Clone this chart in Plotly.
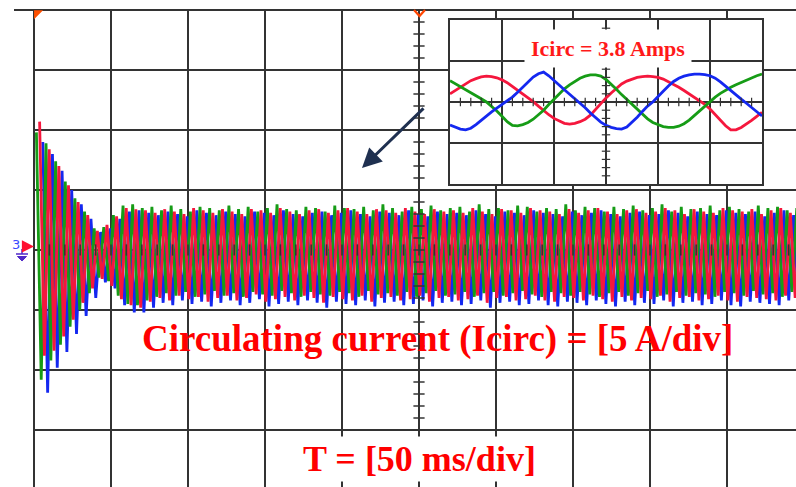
import plotly.graph_objects as go

# ---------------- main scope data (5 A/div, 50 ms/div) ----------------
PERIOD_MS = 6.25          # one cycle of the circulating current on screen
OFFSET_G, OFFSET_R, OFFSET_B = 0.0, 2.083, 4.167

green_peaks = [9.8, 8.9, 7.4, 5.7, 4.3, 3.2, 1.8, 1.9, 2.9, 3.7,
               3.8, 3.5, 3.6, 3.3, 3.7, 3.4, 3.2, 3.6, 3.5, 3.3,
               3.7, 3.4, 3.6, 3.2, 3.5, 3.8, 3.4, 3.3, 3.6, 3.5,
               3.2, 3.7, 3.5, 3.4, 3.6, 3.3, 3.8, 3.5, 3.2, 3.6,
               3.4, 3.7, 3.3, 3.5, 3.6, 3.2, 3.8, 3.4, 3.5, 3.3,
               3.7, 3.6, 3.2, 3.5, 3.4, 3.8, 3.3, 3.6, 3.5, 3.2,
               3.6, 3.4, 3.7, 3.3, 3.5, 3.8, 3.2, 3.6, 3.4, 3.5,
               3.7, 3.3, 3.6, 3.4, 3.2, 3.7, 3.5, 3.6, 3.3, 3.5]
green_troughs = [-10.8, -9.2, -7.9, -6.4, -5.0, -3.6, -2.3, -2.6, -3.8, -4.5,
                 -4.6, -4.2, -3.9, -3.6, -3.8, -3.5, -3.9, -3.7, -3.4, -3.8,
                 -3.6, -3.9, -3.5, -3.7, -3.8, -3.4, -3.6, -3.9, -3.5, -3.7,
                 -3.8, -3.5, -3.6, -3.9, -3.4, -3.7, -3.6, -3.8, -3.5, -3.9,
                 -3.6, -3.4, -3.8, -3.7, -3.5, -3.9, -3.6, -3.5, -3.8, -3.6,
                 -3.4, -3.7, -3.9, -3.5, -3.6, -3.8, -3.5, -3.7, -3.9, -3.6,
                 -3.5, -3.8, -3.6, -3.4, -3.9, -3.7, -3.5, -3.8, -3.6, -3.7,
                 -3.9, -3.5, -3.6, -3.8, -3.4, -3.7, -3.6, -3.9, -3.5, -3.7]
red_peaks = [10.7, 8.4, 7.0, 5.4, 4.0, 2.9, 1.6, 2.1, 2.8, 3.5,
             3.4, 3.3, 3.1, 3.4, 3.2, 3.0, 3.5, 3.3, 3.1, 3.4,
             3.2, 3.0, 3.4, 3.3, 3.1, 3.5, 3.2, 3.0, 3.3, 3.4,
             3.1, 3.3, 3.5, 3.2, 3.0, 3.4, 3.3, 3.1, 3.5, 3.2,
             3.0, 3.4, 3.2, 3.3, 3.1, 3.5, 3.2, 3.0, 3.4, 3.3,
             3.1, 3.5, 3.3, 3.2, 3.0, 3.4, 3.1, 3.3, 3.5, 3.2,
             3.0, 3.3, 3.4, 3.1, 3.2, 3.5, 3.3, 3.0, 3.4, 3.2,
             3.1, 3.5, 3.3, 3.2, 3.4, 3.0, 3.3, 3.5, 3.1, 3.2]
red_troughs = [-8.8, -8.4, -7.2, -5.8, -4.4, -3.2, -2.4, -3.0, -4.1, -4.6,
               -4.8, -4.3, -4.0, -4.2, -3.8, -4.1, -3.9, -4.3, -4.0, -3.8,
               -4.2, -4.0, -3.7, -4.3, -4.1, -3.9, -4.2, -3.8, -4.0, -4.4,
               -3.9, -4.1, -4.2, -3.8, -4.3, -4.0, -3.9, -4.2, -4.1, -3.8,
               -4.3, -4.0, -3.9, -4.2, -4.1, -3.8, -4.4, -4.0, -3.9, -4.2,
               -4.1, -3.8, -4.2, -4.3, -3.9, -4.0, -4.2, -3.8, -4.1, -4.3,
               -3.9, -4.2, -4.0, -4.1, -3.8, -4.3, -4.0, -3.9, -4.2, -4.1,
               -3.8, -4.2, -4.3, -3.9, -4.0, -4.1, -4.2, -3.8, -4.0, -4.3]
blue_peaks = [9.0, 8.0, 6.6, 5.0, 3.8, 2.6, 1.5, 1.8, 2.6, 3.2,
              3.3, 3.1, 2.9, 3.2, 3.0, 2.8, 3.3, 3.1, 2.9, 3.2,
              3.0, 2.8, 3.2, 3.1, 2.9, 3.3, 3.0, 2.8, 3.1, 3.2,
              2.9, 3.1, 3.3, 3.0, 2.8, 3.2, 3.1, 2.9, 3.3, 3.0,
              2.8, 3.2, 3.0, 3.1, 2.9, 3.3, 3.0, 2.8, 3.2, 3.1,
              2.9, 3.3, 3.1, 3.0, 2.8, 3.2, 2.9, 3.1, 3.3, 3.0,
              2.8, 3.1, 3.2, 2.9, 3.0, 3.3, 3.1, 2.8, 3.2, 3.0,
              2.9, 3.3, 3.1, 3.0, 3.2, 2.8, 3.1, 3.3, 2.9, 3.0]
blue_troughs = [-11.9, -9.8, -8.5, -7.0, -5.5, -4.0, -2.7, -3.2, -4.6, -5.2,
                -5.2, -4.8, -4.4, -4.6, -4.2, -4.5, -4.3, -4.7, -4.4, -4.2,
                -4.6, -4.4, -4.1, -4.7, -4.5, -4.3, -4.6, -4.2, -4.4, -4.8,
                -4.3, -4.5, -4.6, -4.2, -4.7, -4.4, -4.3, -4.6, -4.5, -4.2,
                -4.7, -4.4, -4.3, -4.6, -4.5, -4.2, -4.8, -4.4, -4.3, -4.6,
                -4.5, -4.2, -4.6, -4.7, -4.3, -4.4, -4.6, -4.2, -4.5, -4.7,
                -4.3, -4.6, -4.4, -4.5, -4.2, -4.7, -4.4, -4.3, -4.6, -4.5,
                -4.2, -4.6, -4.7, -4.3, -4.4, -4.5, -4.6, -4.2, -4.4, -4.7]

# ---------------- inset data (zoomed view, in divisions) ----------------
inset_x = [round(0.1 * i, 1) for i in range(61)]
inset_red = [0.20, 0.28, 0.37, 0.45, 0.52, 0.57, 0.61, 0.63, 0.62, 0.59,
             0.54, 0.47, 0.38, 0.28, 0.18, 0.09, 0.01, -0.10, -0.21, -0.31,
             -0.40, -0.47, -0.52, -0.54, -0.52, -0.48, -0.42, -0.32, -0.18, -0.03,
             0.10, 0.22, 0.34, 0.44, 0.51, 0.56, 0.60, 0.62, 0.63, 0.62,
             0.60, 0.56, 0.50, 0.43, 0.36, 0.28, 0.20, 0.11, 0.03, -0.06,
             -0.17, -0.30, -0.44, -0.58, -0.68, -0.68, -0.62, -0.54, -0.45, -0.35,
             -0.25]
inset_green = [0.52, 0.45, 0.38, 0.31, 0.24, 0.16, 0.08, 0.00, -0.10, -0.22,
               -0.35, -0.48, -0.57, -0.58, -0.55, -0.50, -0.42, -0.32, -0.20, -0.06,
               0.07, 0.20, 0.32, 0.42, 0.51, 0.58, 0.63, 0.66, 0.66, 0.63,
               0.55, 0.44, 0.31, 0.18, 0.06, -0.06, -0.18, -0.30, -0.41, -0.50,
               -0.56, -0.60, -0.62, -0.62, -0.59, -0.53, -0.44, -0.33, -0.21, -0.09,
               0.02, 0.12, 0.21, 0.29, 0.36, 0.42, 0.48, 0.54, 0.59, 0.64,
               0.68]
inset_blue = [-0.56, -0.62, -0.66, -0.68, -0.64, -0.55, -0.44, -0.34, -0.24, -0.15,
              -0.06, 0.02, 0.12, 0.24, 0.37, 0.50, 0.61, 0.69, 0.73, 0.64,
              0.52, 0.41, 0.30, 0.19, 0.08, -0.02, -0.14, -0.27, -0.39, -0.49,
              -0.57, -0.62, -0.65, -0.66, -0.61, -0.50, -0.37, -0.23, -0.10, 0.00,
              0.12, 0.26, 0.39, 0.50, 0.58, 0.63, 0.66, 0.68, 0.68, 0.67,
              0.64, 0.58, 0.49, 0.38, 0.27, 0.16, 0.07, -0.03, -0.13, -0.24,
              -0.34]

RED, GREEN, BLUE = "#f5173d", "#169c16", "#1428f0"
GRID = "#333333"
PURPLE = "#5028c8"

W, H = 796, 487
ML, MT = 34, 10
PW, PH = W - ML, H - MT
X_PER_DIV, Y_PER_DIV = 77.0, 60.0
XR = PW / X_PER_DIV * 50.0            # ms shown
YTOP = 20.0
YBOT = YTOP - PH / Y_PER_DIV * 5.0


def build(off, peaks, troughs):
    t, v = [], []
    for k, (p, q) in enumerate(zip(peaks, troughs)):
        t += [off + k * PERIOD_MS + PERIOD_MS / 4, off + k * PERIOD_MS + 3 * PERIOD_MS / 4]
        v += [p, q]
    return t, v


def px_x(px):
    return (px - ML) / PW


def px_y(py):
    return (H - py) / PH


def xp(t):
    return t / XR


def yp(a):
    return (a - YBOT) / (YTOP - YBOT)


fig = go.Figure()

for off, pk, tr, col in [(OFFSET_B, blue_peaks, blue_troughs, BLUE),
                         (OFFSET_G, green_peaks, green_troughs, GREEN),
                         (OFFSET_R, red_peaks, red_troughs, RED)]:
    t, v = build(off, pk, tr)
    fig.add_trace(go.Scatter(x=t, y=v, mode="lines", line=dict(color=col, width=2.8),
                             hoverinfo="skip"))

# minor ticks on main centre lines
fig.add_trace(go.Scatter(x=[250] * 39, y=[i for i in range(-19, 20)], mode="markers",
                         marker=dict(symbol="line-ew", size=8, line=dict(color=GRID, width=1.5)),
                         hoverinfo="skip"))
fig.add_trace(go.Scatter(x=[10 * i for i in range(1, 50)], y=[0] * 49, mode="markers",
                         marker=dict(symbol="line-ns", size=8, line=dict(color=GRID, width=1.5)),
                         hoverinfo="skip"))

# trigger marker at top-left corner
fig.add_trace(go.Scatter(x=[2.0], y=[19.72], mode="markers", cliponaxis=False,
                         marker=dict(symbol="triangle-nw", size=10, color="#ff5000"),
                         hoverinfo="skip"))

# inset traces
for vals, col in [(inset_red, RED), (inset_green, GREEN), (inset_blue, BLUE)]:
    fig.add_trace(go.Scatter(x=inset_x, y=vals, mode="lines", xaxis="x2", yaxis="y2",
                             line=dict(color=col, width=2.8), hoverinfo="skip"))
iy_ticks = [round(-2 + 0.2 * i, 1) for i in range(1, 20) if i % 5]
fig.add_trace(go.Scatter(x=[3] * len(iy_ticks), y=iy_ticks,
                         mode="markers", xaxis="x2", yaxis="y2",
                         marker=dict(symbol="line-ew", size=6, line=dict(color=GRID, width=1.2)),
                         hoverinfo="skip"))
ix_ticks = [round(0.2 * i, 1) for i in range(1, 30) if i % 5]
fig.add_trace(go.Scatter(x=ix_ticks, y=[0] * len(ix_ticks),
                         mode="markers", xaxis="x2", yaxis="y2",
                         marker=dict(symbol="line-ns", size=6, line=dict(color=GRID, width=1.2)),
                         hoverinfo="skip"))

# main grid as shapes (below everything)
shapes = []
for t in range(50, 500, 50):
    shapes.append(dict(type="line", xref="paper", yref="paper", x0=xp(t), x1=xp(t),
                       y0=0, y1=1, line=dict(color=GRID, width=2), layer="below"))
for a in range(-15, 20, 5):
    shapes.append(dict(type="line", xref="paper", yref="paper", x0=0, x1=1,
                       y0=yp(a), y1=yp(a), line=dict(color=GRID, width=2), layer="below"))
shapes.append(dict(type="line", xref="paper", yref="paper", x0=px_x(14), x1=1.01,
                   y0=1, y1=1, line=dict(color=GRID, width=2), layer="below"))
shapes.append(dict(type="line", xref="paper", yref="paper", x0=0, x1=0,
                   y0=0, y1=1, line=dict(color=GRID, width=2), layer="below"))
# inset white background
ix0, ix1, iy0, iy1 = 450, 762, 184, 20
shapes.append(dict(type="rect", xref="paper", yref="paper", x0=px_x(ix0), x1=px_x(ix1),
                   y0=px_y(iy0), y1=px_y(iy1), fillcolor="white",
                   line=dict(width=0), layer="below"))
# trigger chevron at top centre
shapes.append(dict(type="path", xref="paper", yref="paper",
                   path="M {:.4f},{:.4f} L {:.4f},{:.4f} L {:.4f},{:.4f}".format(
                       px_x(414), px_y(10), px_x(419.5), px_y(16), px_x(425), px_y(10)),
                   line=dict(color="#ff4500", width=2.2), layer="above"))
# ground symbol of channel marker
shapes.append(dict(type="line", xref="paper", yref="paper", x0=px_x(22), x1=px_x(22),
                   y0=px_y(249), y1=px_y(254), line=dict(color=PURPLE, width=1.5)))
shapes.append(dict(type="line", xref="paper", yref="paper", x0=px_x(16), x1=px_x(28),
                   y0=px_y(254), y1=px_y(254), line=dict(color=PURPLE, width=1.5)))
shapes.append(dict(type="path", xref="paper", yref="paper",
                   path="M {:.4f},{:.4f} L {:.4f},{:.4f} L {:.4f},{:.4f} Z".format(
                       px_x(17.5), px_y(256.5), px_x(26.5), px_y(256.5), px_x(22), px_y(261)),
                   fillcolor=PURPLE, line=dict(color=PURPLE, width=1)))

annotations = [
    dict(text="<b>Circulating current (Icirc) = [5 A/div]</b>", xref="paper", yref="paper",
         x=px_x(437), y=px_y(339), xanchor="center", yanchor="middle", showarrow=False,
         font=dict(family="Liberation Serif", size=37, color="#ff0000")),
    dict(text="<b>T = [50 ms/div]</b>", xref="paper", yref="paper",
         x=px_x(419.5), y=px_y(459), xanchor="center", yanchor="middle", showarrow=False,
         bgcolor="white", borderpad=2,
         font=dict(family="Liberation Serif", size=36, color="#ff0000")),
    dict(text="<b>Icirc = 3.8 Amps</b>", xref="paper", yref="paper",
         x=px_x(608), y=px_y(49), xanchor="center", yanchor="middle", showarrow=False,
         bgcolor="white", borderpad=6,
         font=dict(family="Liberation Serif", size=22, color="#ff1a1a")),
    dict(text="", x=(362 - ML) / X_PER_DIV * 50, y=(250 - 168) / Y_PER_DIV * 5,
         xref="x", yref="y", showarrow=True, ax=63, ay=-61, axref="pixel", ayref="pixel",
         arrowhead=2, arrowsize=1.3, arrowwidth=3, arrowcolor="#1f3050"),
    dict(text="3", xref="paper", yref="paper", x=px_x(16), y=px_y(244),
         xanchor="center", yanchor="middle", showarrow=False,
         font=dict(family="DejaVu Sans", size=13, color="#3a48ff")),
    dict(text="", x=0, y=0.3, xref="x", yref="y", showarrow=True, ax=-13, ay=0,
         axref="pixel", ayref="pixel", arrowhead=2, arrowsize=1.1, arrowwidth=2.2,
         arrowcolor="#ff1030"),
]

fig.update_layout(
    width=W, height=H, autosize=False,
    margin=dict(l=ML, r=0, t=MT, b=0, pad=0),
    paper_bgcolor="white", plot_bgcolor="rgba(0,0,0,0)",
    showlegend=False,
    xaxis=dict(range=[0, XR], showgrid=False, zeroline=False, showticklabels=False,
               ticks="", showline=False, fixedrange=True),
    yaxis=dict(range=[YBOT, YTOP], showgrid=False, zeroline=False, showticklabels=False,
               ticks="", showline=False, fixedrange=True),
    xaxis2=dict(domain=[px_x(ix0), px_x(ix1)], anchor="y2", range=[0, 6], dtick=1, tick0=0,
                showgrid=True, gridcolor=GRID, gridwidth=1.5, zeroline=False,
                showticklabels=False, ticks="", showline=True, mirror=True,
                linecolor=GRID, linewidth=1.5, fixedrange=True),
    yaxis2=dict(domain=[px_y(iy0), px_y(iy1)], anchor="x2", range=[-2, 2], dtick=1, tick0=0,
                showgrid=True, gridcolor=GRID, gridwidth=1.5, zeroline=False,
                showticklabels=False, ticks="", showline=True, mirror=True,
                linecolor=GRID, linewidth=1.5, fixedrange=True),
    shapes=shapes, annotations=annotations,
)

fig.write_html("out.html")
